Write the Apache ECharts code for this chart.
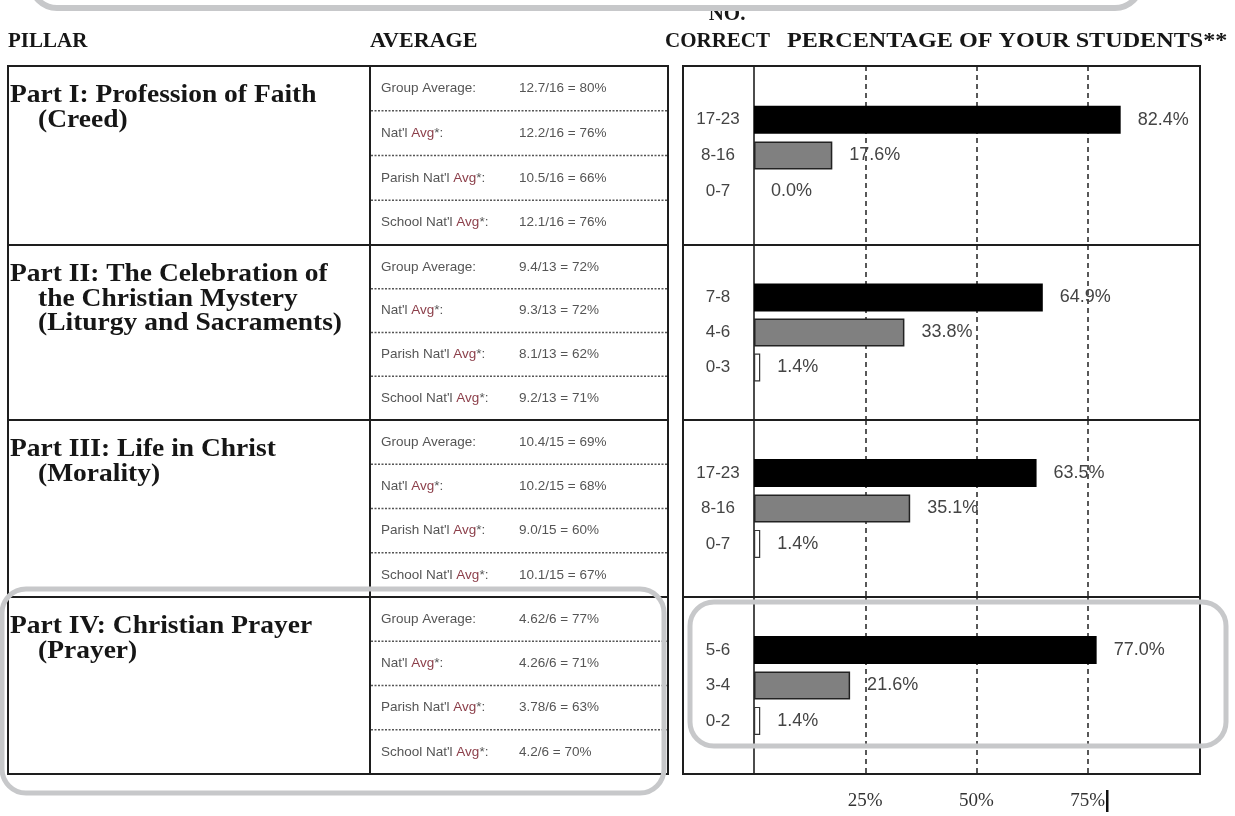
<!DOCTYPE html>
<html><head><meta charset="utf-8">
<script src="https://cdn.jsdelivr.net/npm/echarts@6/dist/echarts.min.js"></script>
<style>html,body{margin:0;padding:0;background:#fff}#c{width:1235px;height:816px}</style>
</head><body><div id="c"></div>
<script>
// ---- data ----
const pillars = [
  ['Part I: Profession of Faith', '(Creed)'],
  ['Part II: The Celebration of', 'the Christian Mystery', '(Liturgy and Sacraments)'],
  ['Part III: Life in Christ', '(Morality)'],
  ['Part IV: Christian Prayer', '(Prayer)']
];
const avgLabels = ['Group Average:', "Nat'l Avg*:", "Parish Nat'l Avg*:", "School Nat'l Avg*:"];
const avgValues = [
  ['12.7/16 = 80%', '12.2/16 = 76%', '10.5/16 = 66%', '12.1/16 = 76%'],
  ['9.4/13 = 72%', '9.3/13 = 72%', '8.1/13 = 62%', '9.2/13 = 71%'],
  ['10.4/15 = 69%', '10.2/15 = 68%', '9.0/15 = 60%', '10.1/15 = 67%'],
  ['4.62/6 = 77%', '4.26/6 = 71%', '3.78/6 = 63%', '4.2/6 = 70%']
];
const ranges = [
  ['17-23', '8-16', '0-7'],
  ['7-8', '4-6', '0-3'],
  ['17-23', '8-16', '0-7'],
  ['5-6', '3-4', '0-2']
];
const percents = [
  [82.4, 17.6, 0.0],
  [64.9, 33.8, 1.4],
  [63.5, 35.1, 1.4],
  [77.0, 21.6, 1.4]
];
const xTickLabels = ['25%', '50%', '75%'];
const headers = { pillar: 'PILLAR', average: 'AVERAGE', no: 'NO.', correct: 'CORRECT', pct: 'PERCENTAGE OF YOUR STUDENTS**' };

// ---- layout ----
const secTop = [66, 245, 420, 597];
const secBot = [245, 420, 597, 774];
const SERIF = '"Liberation Serif","Times New Roman",serif';
const SANS = '"Liberation Sans",Arial,sans-serif';
const LINE = '#1e1e1e';
const GRAYBOX = '#c7c8ca';

const chart = echarts.init(document.getElementById('c'), null, { renderer: 'canvas' });

const graphics = [];
// headers
const hdrStyle = { font: 'bold 21px ' + SERIF, fill: '#161616', textVerticalAlign: 'middle' };
graphics.push({ type: 'text', x: 8, y: 42, scaleX: 1.0, style: Object.assign({ text: headers.pillar }, hdrStyle) });
graphics.push({ type: 'text', x: 370, y: 42, scaleX: 1.05, style: Object.assign({ text: headers.average }, hdrStyle) });
graphics.push({ type: 'text', x: 727, y: 15, style: Object.assign({ text: headers.no, textAlign: 'center' }, hdrStyle) });
graphics.push({ type: 'text', x: 665, y: 42, scaleX: 1.0, style: Object.assign({ text: headers.correct }, hdrStyle) });
graphics.push({ type: 'text', x: 787, y: 42, scaleX: 1.15, style: Object.assign({ text: headers.pct }, hdrStyle) });

// left table
graphics.push({ type: 'rect', shape: { x: 8, y: secTop[0], width: 660, height: secBot[3] - secTop[0] },
  style: { fill: 'none', stroke: LINE, lineWidth: 2 }, z: 5 });
graphics.push({ type: 'line', shape: { x1: 370, y1: secTop[0], x2: 370, y2: secBot[3] }, style: { stroke: LINE, lineWidth: 2 }, z: 5 });
for (let s = 0; s < 4; s++) {
  if (s > 0) graphics.push({ type: 'line', shape: { x1: 8, y1: secTop[s], x2: 668, y2: secTop[s] }, style: { stroke: LINE, lineWidth: 2 }, z: 5 });
  pillars[s].forEach((t, i) => {
    graphics.push({ type: 'text', x: i === 0 ? 10 : 38, y: secTop[s] + 30 + i * 24.5, scaleX: 1.1,
      style: { text: t, font: 'bold 25px ' + SERIF, fill: '#161616', textVerticalAlign: 'middle' } });
  });
  const h = (secBot[s] - secTop[s]) / 4;
  for (let r = 0; r < 4; r++) {
    const cy = secTop[s] + h * (r + 0.5);
    if (r > 0) graphics.push({ type: 'line', shape: { x1: 371, y1: secTop[s] + h * r, x2: 667, y2: secTop[s] + h * r },
      style: { stroke: '#555', lineWidth: 1.5, lineDash: [2, 1.5] }, z: 5 });
    const lbl = '{a|' + avgLabels[r].replace('Avg', '}{r|Avg}{a|') + '}';
    graphics.push({ type: 'text', x: 381, y: cy, style: { text: lbl, textVerticalAlign: 'middle',
      rich: { a: { fontFamily: SANS, fontSize: 13.5, fill: '#555' }, r: { fontFamily: SANS, fontSize: 13.5, fill: '#8c3f4a' } } } });
    graphics.push({ type: 'text', x: 519, y: cy, style: { text: avgValues[s][r], font: '13.5px ' + SANS, fill: '#555', textVerticalAlign: 'middle' } });
  }
}

// right panel frame
graphics.push({ type: 'rect', shape: { x: 683, y: secTop[0], width: 517, height: secBot[3] - secTop[0] },
  style: { fill: 'none', stroke: LINE, lineWidth: 2 }, z: 5 });
for (let s = 1; s < 4; s++) {
  graphics.push({ type: 'line', shape: { x1: 683, y1: secTop[s], x2: 1200, y2: secTop[s] }, style: { stroke: LINE, lineWidth: 2 }, z: 5 });
}
// text cursor after 75%
graphics.push({ type: 'rect', shape: { x: 1106, y: 790, width: 2.5, height: 22 }, style: { fill: '#111' }, z: 5 });

// gray highlight boxes
graphics.push({ type: 'rect', shape: { x: 31, y: -60, width: 1110, height: 68, r: 26 }, style: { fill: 'none', stroke: GRAYBOX, lineWidth: 6 }, z: 20 });
graphics.push({ type: 'rect', shape: { x: 2, y: 589, width: 662, height: 204, r: 24 }, style: { fill: 'none', stroke: GRAYBOX, lineWidth: 5 }, z: 20 });
graphics.push({ type: 'rect', shape: { x: 690, y: 602, width: 536, height: 144, r: 24 }, style: { fill: 'none', stroke: GRAYBOX, lineWidth: 5 }, z: 20 });

const grids = [], xAxes = [], yAxes = [], series = [];
const barStyles = [
  v => ({ color: '#000', borderWidth: 0 }),
  v => ({ color: '#808080', borderColor: '#222', borderWidth: v > 0 ? 1.5 : 0 }),
  v => ({ color: '#fff', borderColor: '#333', borderWidth: v > 0 ? 1.2 : 0 })
];
for (let s = 0; s < 4; s++) {
  grids.push({ left: 754, width: 445, top: secTop[s], height: secBot[s] - secTop[s], containLabel: false });
  xAxes.push({
    type: 'value', gridIndex: s, min: 0, max: 100, interval: 25,
    axisLine: { show: false }, axisTick: { show: false },
    axisLabel: s === 3 ? {
      show: true, margin: 18, fontFamily: SERIF, fontSize: 19, color: '#333',
      formatter: v => (v > 0 && v < 100) ? xTickLabels[v / 25 - 1] : ''
    } : { show: false },
    splitLine: { show: true, showMinLine: false, showMaxLine: false, lineStyle: { color: '#222', width: 1.5, type: [5, 4] } }
  });
  yAxes.push({
    type: 'category', gridIndex: s, inverse: true, data: [''].concat(ranges[s], ['']),
    axisLine: { show: true, lineStyle: { color: '#111', width: 1.5 } },
    axisTick: { show: false }, splitLine: { show: false },
    axisLabel: { margin: 36, align: 'center', fontFamily: SANS, fontSize: 17, color: '#444' }
  });
  series.push({
    type: 'bar', xAxisIndex: s, yAxisIndex: s, barWidth: 28, silent: true,
    data: [null].concat(percents[s].map((v, j) => ({ value: v, itemStyle: barStyles[j](v) })), [null]),
    label: { show: true, position: 'right', distance: 17, fontFamily: SANS, fontSize: 18, color: '#444',
      formatter: p => p.value == null ? '' : p.value.toFixed(1) + '%' }
  });
}

chart.setOption({
  animation: false,
  backgroundColor: '#fff',
  grid: grids, xAxis: xAxes, yAxis: yAxes, series: series,
  graphic: { elements: graphics }
});
</script></body></html>
